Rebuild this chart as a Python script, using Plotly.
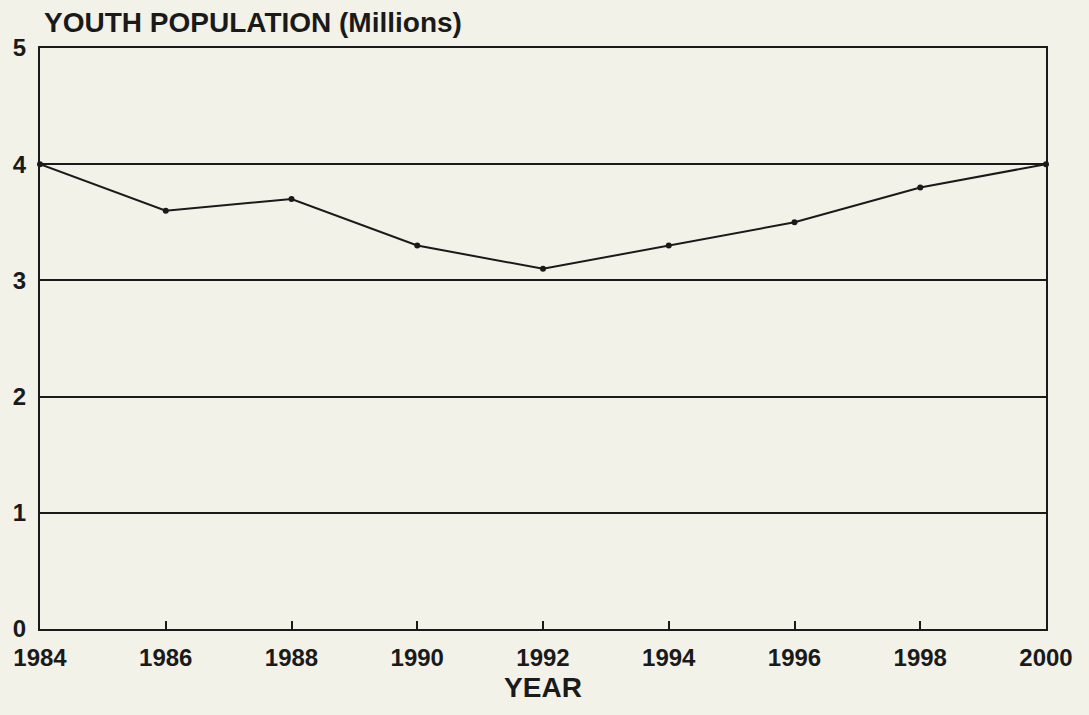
import plotly.graph_objects as go

years = [1984, 1986, 1988, 1990, 1992, 1994, 1996, 1998, 2000]
youth_millions = [4.0, 3.6, 3.7, 3.3, 3.1, 3.3, 3.5, 3.8, 4.0]
x_ticks = [1984, 1986, 1988, 1990, 1992, 1994, 1996, 1998, 2000]
y_ticks = [0, 1, 2, 3, 4, 5]

bg = "#f3f2e9"
font_family = "Liberation Sans, Arial, sans-serif"

fig = go.Figure()
fig.add_trace(go.Scatter(
    x=years, y=youth_millions, mode="lines+markers",
    line=dict(color="#1a1a1a", width=2),
    marker=dict(color="#1a1a1a", size=6),
    showlegend=False, cliponaxis=False,
))

fig.update_layout(
    width=1073, height=699,
    margin=dict(l=32, r=35, t=40, b=78),
    paper_bgcolor=bg, plot_bgcolor=bg,
    font=dict(family=font_family, color="#1a1a1a"),
    xaxis=dict(
        range=[1984, 2000], tickvals=x_ticks, ticktext=[str(v) for v in x_ticks],
        showgrid=False, zeroline=False, automargin=False,
        showline=True, linecolor="#1a1a1a", linewidth=2, mirror=True,
        ticks="inside", ticklen=8, tickwidth=1.5, tickcolor="#1a1a1a",
        ticklabelstandoff=6,
        tickfont=dict(size=24, family=font_family, weight="bold"),
        title=dict(text="YEAR", font=dict(size=28, family=font_family, weight="bold"), standoff=8),
    ),
    yaxis=dict(
        range=[0, 5], tickvals=y_ticks, ticktext=[str(v) for v in y_ticks],
        showgrid=True, gridcolor="#1a1a1a", gridwidth=1.5,
        zeroline=False, automargin=False,
        showline=True, linecolor="#1a1a1a", linewidth=2, mirror=True,
        ticks="", ticklabelstandoff=7,
        tickfont=dict(size=24, family=font_family, weight="bold"),
    ),
    annotations=[dict(
        text="YOUTH POPULATION (Millions)", xref="paper", yref="paper",
        x=0, y=1, xanchor="left", yanchor="middle", yshift=26, xshift=2, showarrow=False,
        font=dict(size=28, family=font_family, weight="bold", color="#1a1a1a"),
    )],
)

fig.write_html("out.html", post_script="document.body.style.background='%s';" % bg)
